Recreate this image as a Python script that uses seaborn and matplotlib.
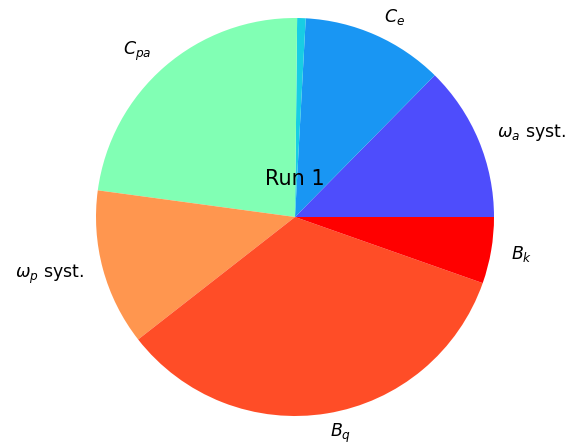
import numpy as np
import matplotlib
matplotlib.use("Agg")
import matplotlib.pyplot as plt
import seaborn as sns

sns.set_style("white")
plt.rcParams['font.family'] = ['DejaVu Sans']
plt.rcParams['text.color'] = 'black'

labels = [r"$\omega_a$ syst.", r"$C_e$", "", r"$C_{pa}$", r"$\omega_p$ syst.", r"$B_q$", r"$B_k$"]
fractions = [0.1261, 0.1153, 0.0069, 0.2303, 0.1269, 0.3406, 0.0539]
color_levels = [0.1, 0.2, 0.3, 0.5, 0.8, 0.9, 1.0]
title_text = "Run 1"

cmap = matplotlib.colormaps["rainbow"]
colors = [cmap(v) for v in color_levels]

fig = plt.figure(figsize=(5.70, 4.44), dpi=100)
W, H = 570.0, 444.0
cx, cy, r = 295.0, 444.0 - 217.0, 199.0
side = 2.5 * r
ax = fig.add_axes([(cx - side / 2) / W, (cy - side / 2) / H, side / W, side / H])
ax.pie(fractions, labels=labels, colors=colors, startangle=0,
       wedgeprops={"linewidth": 0, "edgecolor": "none"},
       textprops={"fontsize": 12.5, "color": "black"})
ax.text(0, 0.19, title_text, ha="center", va="center", fontsize=15, color="black")
ax.set_aspect("equal")
fig.savefig("out.png", dpi=100)
